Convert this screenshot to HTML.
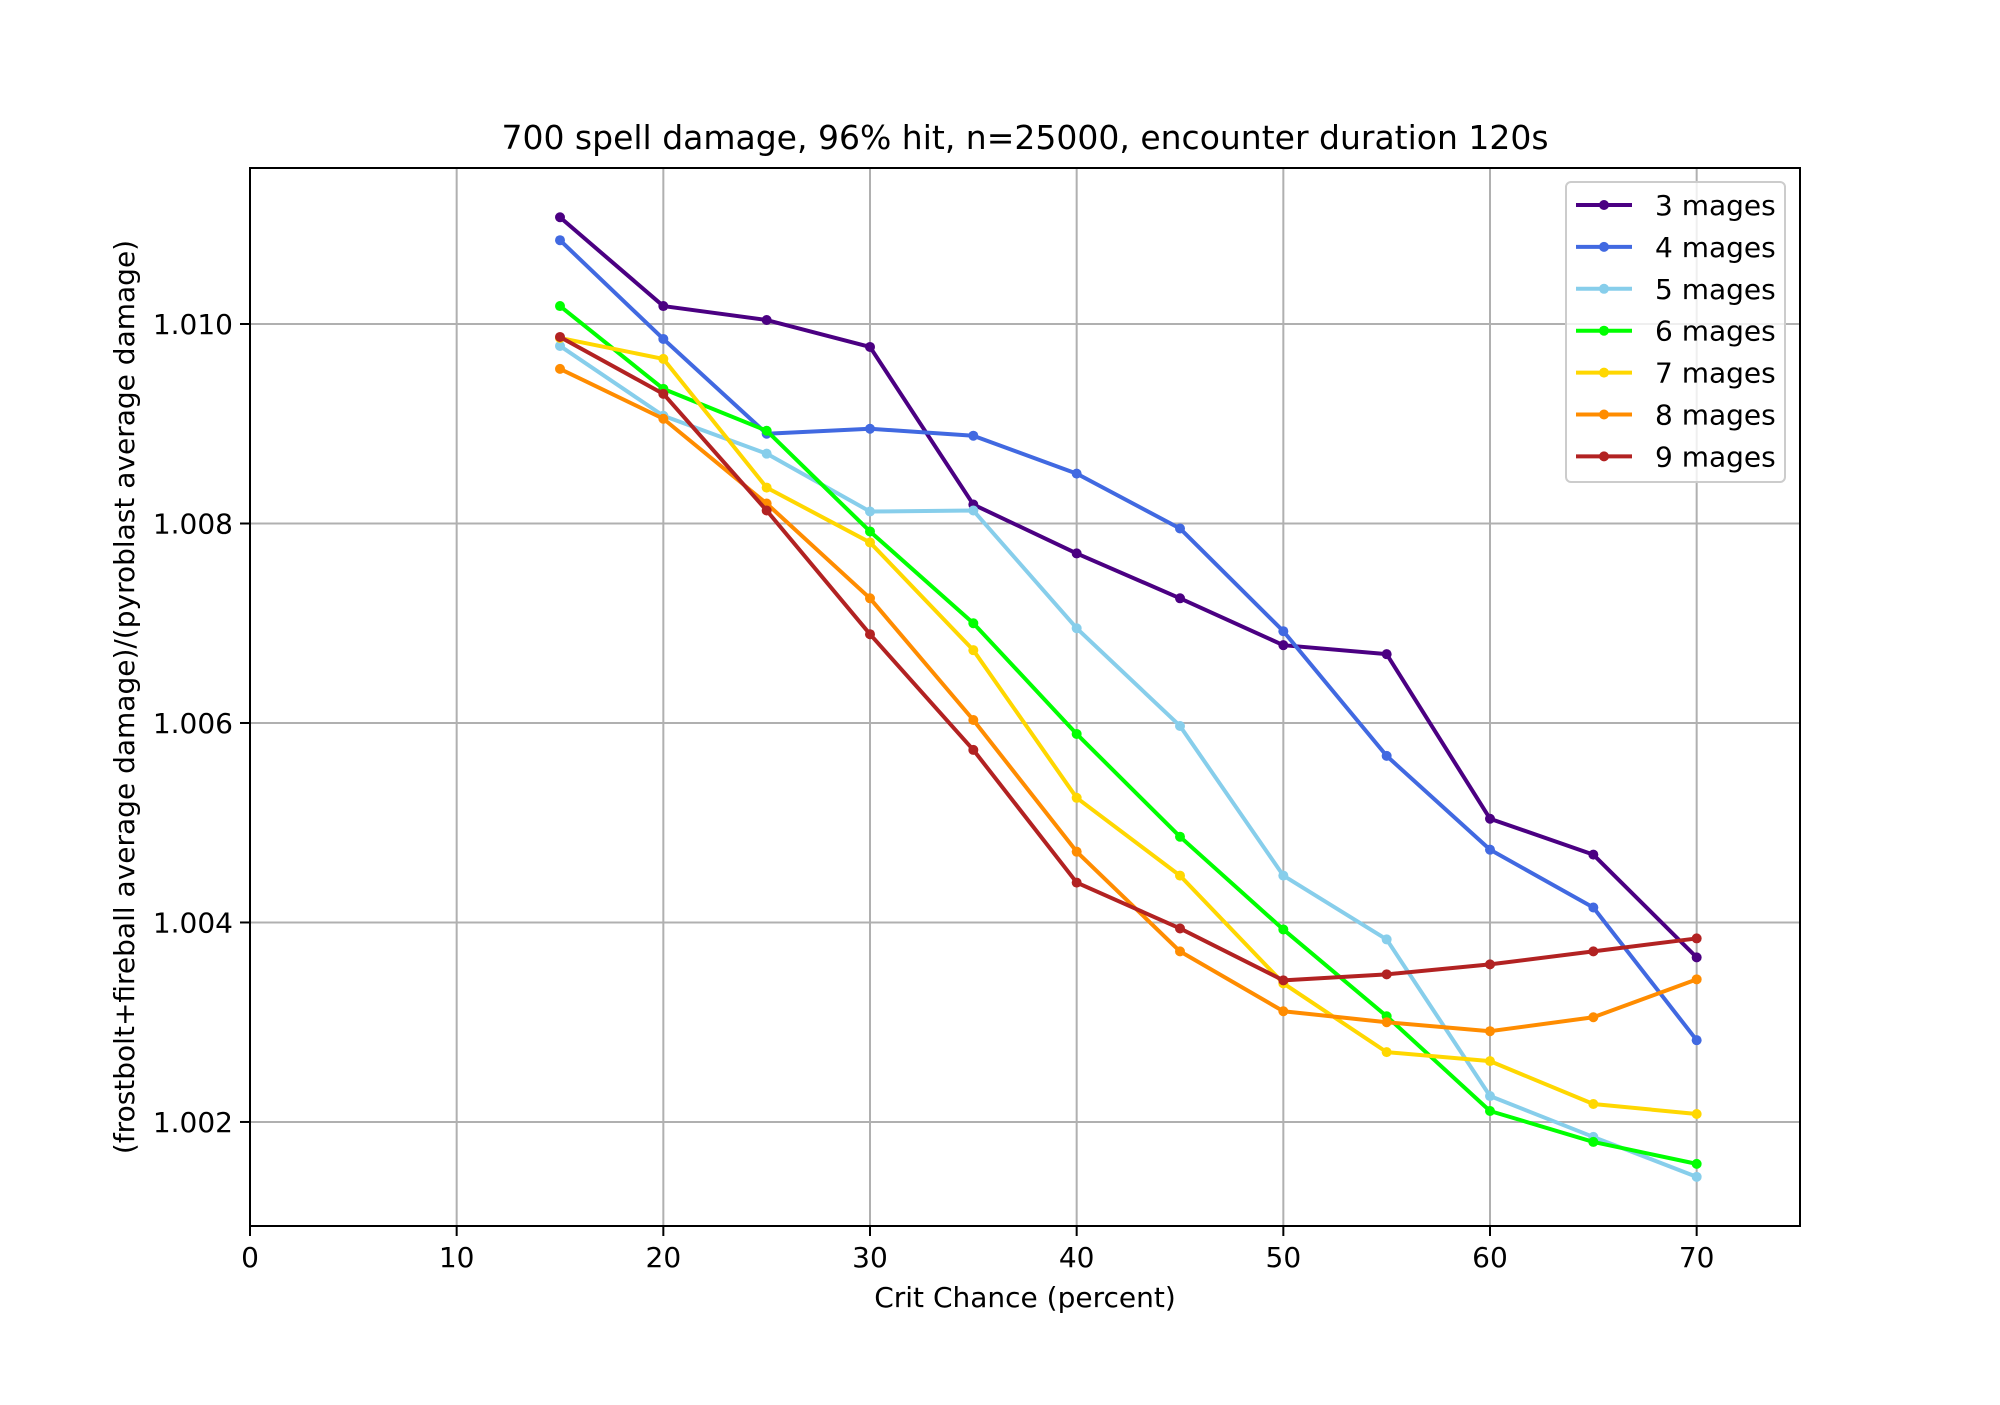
<!DOCTYPE html>
<html><head><meta charset="utf-8"><style>
body{margin:0;background:#fff}
svg text{font-family:"DejaVu Sans","Liberation Sans",sans-serif;fill:#000}
</style></head><body>
<svg id="chart" width="2000" height="1400" xmlns="http://www.w3.org/2000/svg">
<rect width="2000" height="1400" fill="#fff"/>
<g id="grid"></g>
<g id="series"></g>
<g id="axes"></g>
<text x="1025" y="149" font-size="33" text-anchor="middle">700 spell damage, 96% hit, n=25000, encounter duration 120s</text>
<text x="1025" y="1307" font-size="28" text-anchor="middle">Crit Chance (percent)</text>
<text x="0" y="0" font-size="28" text-anchor="middle" transform="translate(134,697) rotate(-90)">(frostbolt+fireball average damage)/(pyroblast average damage)</text>
<g id="legend"></g>
</svg>
<script>
const xCats=[15,20,25,30,35,40,45,50,55,60,65,70];
const s3=[1.01107,1.01018,1.01004,1.00977,1.00819,1.0077,1.00725,1.00678,1.00669,1.00504,1.00468,1.00365];
const s4=[1.01084,1.00985,1.0089,1.00895,1.00888,1.0085,1.00795,1.00692,1.00567,1.00473,1.00415,1.00282];
const s5=[1.00978,1.00908,1.0087,1.00812,1.00813,1.00695,1.00597,1.00447,1.00383,1.00226,1.00185,1.00145];
const s6=[1.01018,1.00935,1.00893,1.00792,1.007,1.00589,1.00486,1.00393,1.00306,1.00211,1.0018,1.00158];
const s7=[1.00986,1.00965,1.00836,1.00781,1.00673,1.00525,1.00447,1.00339,1.0027,1.00261,1.00218,1.00208];
const s8=[1.00955,1.00905,1.0082,1.00725,1.00603,1.00471,1.00371,1.00311,1.003,1.00291,1.00305,1.00343];
const s9=[1.00987,1.0093,1.00813,1.00689,1.00573,1.0044,1.00394,1.00342,1.00348,1.00358,1.00371,1.00384];
const seriesNames=["3 mages","4 mages","5 mages","6 mages","7 mages","8 mages","9 mages"];
const seriesColors=["#4b0082","#4169e1","#87ceeb","#00ff00","#ffd700","#ff8c00","#b22222"];
const xTicks=[0,10,20,30,40,50,60,70];
const yTicks=[1.002,1.004,1.006,1.008,1.010];
const yTickLabels=["1.002","1.004","1.006","1.008","1.010"];
const allSeries=[s3,s4,s5,s6,s7,s8,s9];
const L=250,R=1800,T=168,B=1226,X0=0,X1=75,Y0=1.000957,Y1=1.011564;
const NS="http://www.w3.org/2000/svg";
const sx=v=>L+(v-X0)/(X1-X0)*(R-L);
const sy=v=>B-(v-Y0)/(Y1-Y0)*(B-T);
function mk(tag,attrs,parent){const e=document.createElementNS(NS,tag);for(const k in attrs)e.setAttribute(k,attrs[k]);parent.appendChild(e);return e;}
const grid=document.getElementById('grid'),axes=document.getElementById('axes'),ser=document.getElementById('series'),leg=document.getElementById('legend');
xTicks.forEach(t=>{
 const g=mk('line',{x1:sx(t),x2:sx(t),y1:T,y2:B,stroke:'#b0b0b0','stroke-width':2},grid);
 
 
 const tk=mk('line',{x1:sx(t),x2:sx(t),y1:B,y2:B+10,stroke:'#000','stroke-width':2},axes);
 
 
 const tx=mk('text',{x:sx(t),y:B+41,'font-size':28,'text-anchor':'middle'},axes);tx.textContent=t;
 
 
});
yTicks.forEach((t,i)=>{
 const g=mk('line',{x1:L,x2:R,y1:sy(t),y2:sy(t),stroke:'#b0b0b0','stroke-width':2},grid);
 
 
 const tk=mk('line',{x1:L-10,x2:L,y1:sy(t),y2:sy(t),stroke:'#000','stroke-width':2},axes);
 
 
 const tx=mk('text',{x:L-17,y:sy(t)+10,'font-size':28,'text-anchor':'end'},axes);tx.textContent=yTickLabels[i];
 
 
});
const fr=mk('rect',{x:L,y:T,width:R-L,height:B-T,fill:'none',stroke:'#000','stroke-width':2},axes);


allSeries.forEach((s,i)=>{
 const c=seriesColors[i];
 const pl=mk('polyline',{points:s.map((v,j)=>sx(xCats[j])+','+sy(v)).join(' '),fill:'none',stroke:c,'stroke-width':4,'stroke-linejoin':'round'},ser);
 
 
 s.forEach((v,j)=>{
  const p=mk('circle',{cx:sx(xCats[j]),cy:sy(v),r:5,fill:c},ser);
  
  
 });
});
const lb=mk('rect',{x:1566,y:182,width:219,height:300,rx:5,fill:'#fff','fill-opacity':0.8,stroke:'#cccccc','stroke-width':2},leg);


seriesNames.forEach((n,i)=>{
 const y=205+i*41.9;
 const ln=mk('line',{x1:1576,x2:1632,y1:y,y2:y,stroke:seriesColors[i],'stroke-width':4},leg);
 
 
 const d=mk('circle',{cx:1604,cy:y,r:5,fill:seriesColors[i]},leg);
 
 
 const t=mk('text',{x:1655,y:y+10,'font-size':28},leg);t.textContent=n;
 
 
});
</script>
</body></html>
